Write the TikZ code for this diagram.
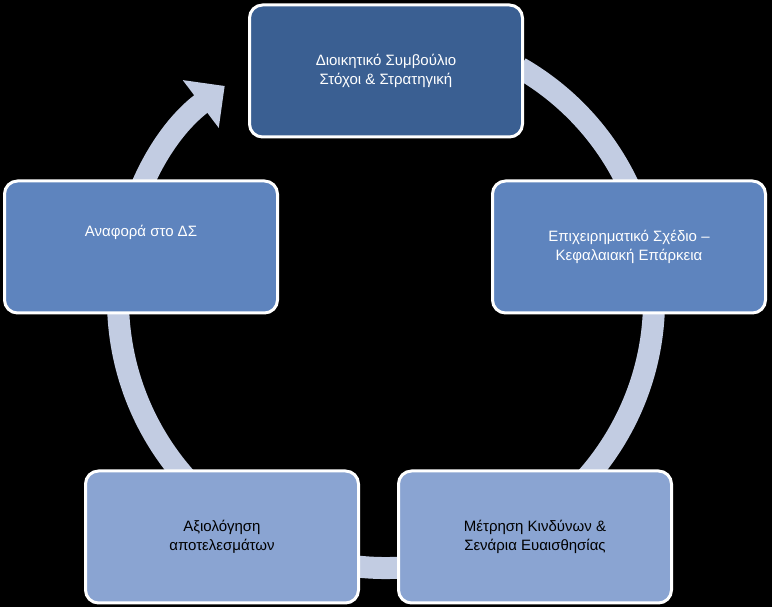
\documentclass[tikz,border=0pt]{standalone}
\usepackage{fontspec}
\setmainfont{Liberation Sans}
\usetikzlibrary{arrows.meta,calc}
\definecolor{ring}{HTML}{C2CCE2}
\definecolor{cA}{HTML}{3A5F92}
\definecolor{cB}{HTML}{5E84BE}
\definecolor{cC}{HTML}{8AA4D2}
\tikzset{box/.style={draw=white,line width=3pt,rounded corners=13pt,minimum width=273pt,minimum height=132pt,align=center,font=\fontsize{15}{19}\selectfont}}
\begin{document}
\begin{tikzpicture}[x=1pt,y=1pt]
\fill[black] (0,0) rectangle (772,607);
\useasboundingbox (0,0) rectangle (772,607);
\coordinate (c) at (386,307);
\draw[ring,line width=22pt,-{Triangle[length=30pt 0 0,width=58pt 0 0]}] ($(c)+(60:268)$) arc[start angle=60,end angle=-233,radius=268];
\node[box,fill=cA,text=white] (n1) at (386,536) {Διοικητικό Συμβούλιο\\Στόχοι \& Στρατηγική};
\node[box,fill=cB,text=white] (n2) at (629,360) {Επιχειρηματικό Σχέδιο –\\Κεφαλαιακή Επάρκεια};
\node[box,fill=cC,text=black] (n3) at (535,70) {Μέτρηση Κινδύνων \&\\Σενάρια Ευαισθησίας};
\node[box,fill=cC,text=black] (n4) at (222,70) {Αξιολόγηση\\αποτελεσμάτων};
\node[box,fill=cB,text=white] (n5) at (141,360) {Αναφορά στο ΔΣ\\[14pt]};
\end{tikzpicture}
\end{document}
